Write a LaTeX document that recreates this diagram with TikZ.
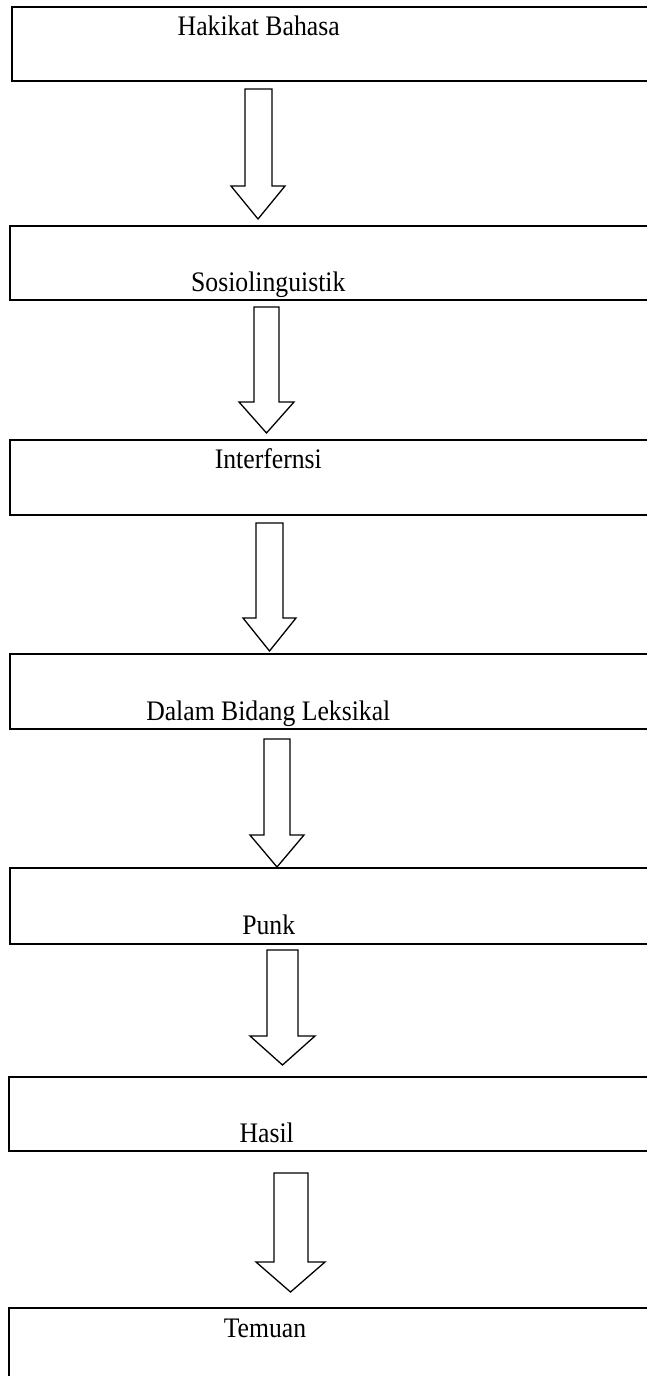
\documentclass[tikz,border=0pt]{standalone}
\usepackage{fontspec}
\setmainfont{Liberation Serif}
\newcommand\tallword[1]{\scalebox{1}[1.1]{#1}}
\newcommand\blockarr[7]{% shaft x1, shaft x2, shaft top, head top, head x1, head x2, tip y
  \draw[blockarrow] (#1,#3) -- (#2,#3) -- (#2,#4) -- (#6,#4) -- ({(#5+#6)/2},#7) -- (#5,#4) -- (#1,#4) -- cycle;}
\begin{document}
\begin{tikzpicture}[x={(1pt,0pt)}, y={(0pt,-1pt)},
  box/.style={draw=black, line width=2pt, rectangle, anchor=north west, minimum width=700pt, inner sep=0pt, outer sep=0pt},
  label/.style={anchor=base, inner sep=0pt, font=\fontsize{25.7}{30}\selectfont},
  blockarrow/.style={draw=black, fill=white, line width=1.3pt, line join=miter}]
\useasboundingbox (0,0) rectangle (647,1376);
\clip (0,0) rectangle (647,1376);
\fill[white] (0,0) rectangle (647,1376);
% boxes
\node[box, minimum height=74pt] (b1) at (12,7) {};
\node[box, minimum height=74pt] (b2) at (10,226) {};
\node[box, minimum height=75pt] (b3) at (10,440) {};
\node[box, minimum height=75pt] (b4) at (10,654) {};
\node[box, minimum height=76pt] (b5) at (10,868) {};
\node[box, minimum height=74pt] (b6) at (8.5,1077) {};
\node[box, minimum height=120pt] (b7) at (8.5,1308) {};
% labels
\node[label] (t1) at (258.7,35) {\tallword{Hakikat Bahasa}};
\node[label] (t2) at (268.3,291.7) {\tallword{Sosiolinguistik}};
\node[label] (t3) at (268.3,468.3) {\tallword{Interfernsi}};
\node[label] (t4) at (268.3,720.7) {\tallword{Dalam Bidang Leksikal}};
\node[label] (t5) at (268.7,934) {\tallword{Punk}};
\node[label] (t6) at (266.7,1142) {\tallword{Hasil}};
\node[label] (t7) at (265,1337) {\tallword{Temuan}};
% block arrows
\blockarr{245}{272}{89}{186}{231}{285}{219}
\blockarr{254}{279}{307}{402}{239}{294}{433}
\blockarr{256}{283}{523}{618}{243}{296}{651}
\blockarr{264}{290}{739}{835}{250}{304}{867}
\blockarr{267}{298}{950}{1036}{250}{315}{1065}
\blockarr{274}{308}{1173}{1262}{256}{325}{1292}
\end{tikzpicture}
\end{document}
